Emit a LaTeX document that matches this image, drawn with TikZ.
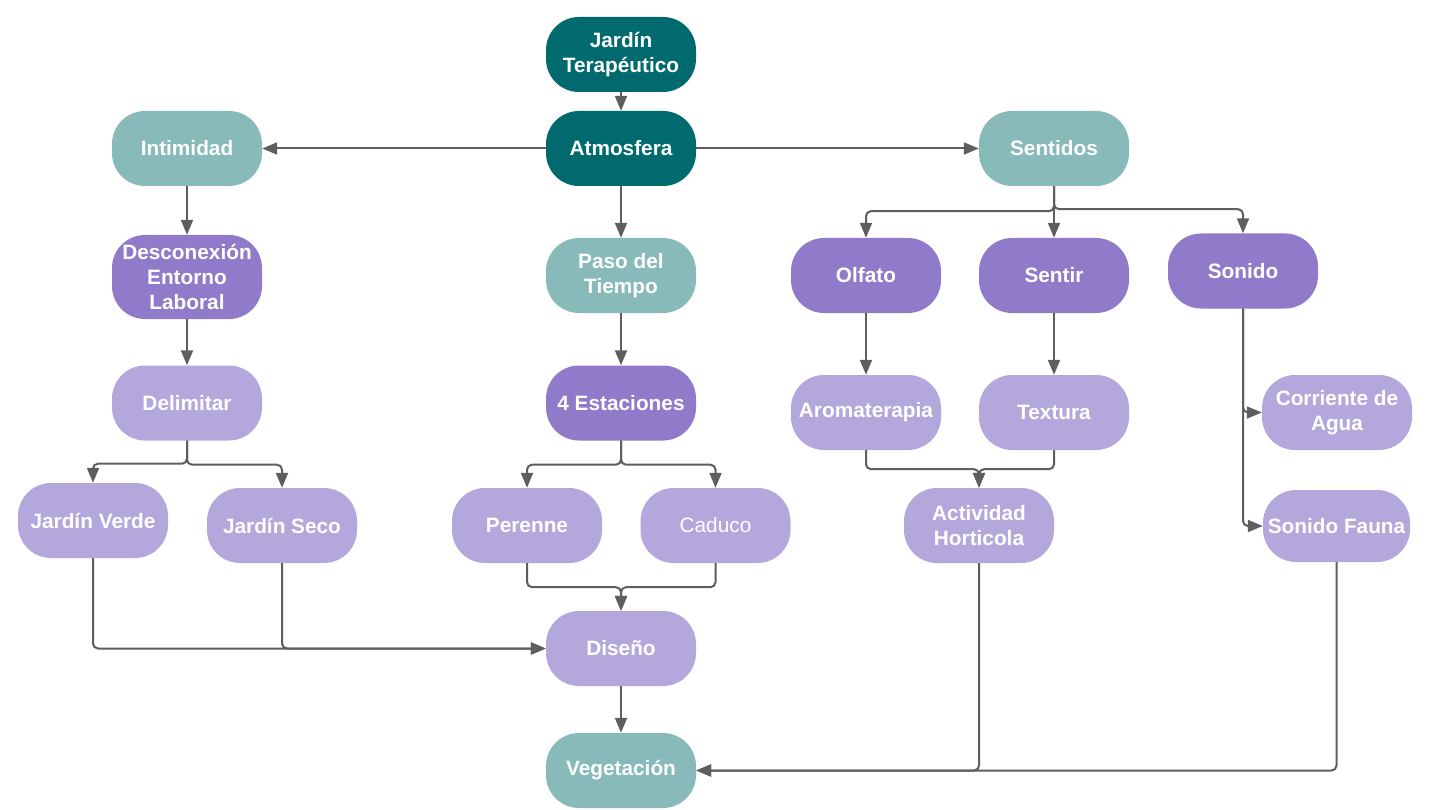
\documentclass[tikz,border=0pt]{standalone}
\usepackage{fontspec}
\setmainfont{Liberation Sans}
\usetikzlibrary{arrows.meta}
\definecolor{dteal}{HTML}{006A6E}
\definecolor{lteal}{HTML}{87BAB9}
\definecolor{dpurp}{HTML}{8F7BC9}
\definecolor{lpurp}{HTML}{B4A7DC}
\definecolor{edgegray}{HTML}{5E5E5E}
\tikzset{
  box/.style={rounded corners=33pt, minimum width=150pt, minimum height=75pt, inner sep=0pt,
    text=white, align=center, font=\fontsize{20.8}{25}\selectfont\bfseries},
  bdteal/.style={box, fill=dteal},
  blteal/.style={box, fill=lteal},
  bdpurp/.style={box, fill=dpurp},
  blpurp/.style={box, fill=lpurp},
  arr/.style={draw=edgegray, line width=2pt, rounded corners=5pt,
    -{Triangle[length=15pt,width=12pt]}},
}
\begin{document}
\begin{tikzpicture}[x=1pt,y=-1pt]
\useasboundingbox (0,0) rectangle (1429,810);
% nodes
\node[bdteal] (jt) at (621,54.5) {Jardín\\Terapéutico};
\node[bdteal] (atm) at (621,148.5) {Atmosfera};
\node[blteal] (int) at (187,148.5) {Intimidad};
\node[blteal] (sen) at (1054,148.5) {Sentidos};
\node[bdpurp, minimum height=84pt] (des) at (187,277) {Desconexión\\Entorno\\Laboral};
\node[blteal] (pas) at (621,275.5) {Paso del\\Tiempo};
\node[bdpurp] (olf) at (866,275.5) {Olfato};
\node[bdpurp] (snt) at (1054,275.5) {Sentir};
\node[bdpurp] (son) at (1243,271) {Sonido};
\node[blpurp] (del) at (187,403) {Delimitar};
\node[bdpurp] (est) at (621,403) {4 Estaciones};
\node[blpurp] (aro) at (866,412.5) {Aromaterapia};
\node[blpurp] (tex) at (1054,412.5) {Textura};
\node[blpurp] (ca) at (1337,412.5) {Corriente de\\Agua};
\node[blpurp, minimum width=147pt, minimum height=72pt] (sf) at (1336.5,526) {Sonido Fauna};
\node[blpurp] (jv) at (93,520.5) {Jardín Verde};
\node[blpurp] (js) at (282,525.5) {Jardín Seco};
\node[blpurp] (per) at (527,525.5) {Perenne};
\node[blpurp, font=\fontsize{20.8}{25}\selectfont] (cad) at (715.5,525.5) {Caduco};
\node[blpurp] (act) at (979,525.5) {Actividad\\Horticola};
\node[blpurp] (dis) at (621,648.5) {Diseño};
\node[blteal] (veg) at (621,770.5) {Vegetación};
% edges
\draw[arr] (jt) -- (atm);
\draw[arr] (atm) -- (int);
\draw[arr] (atm) -- (sen);
\draw[arr] (atm) -- (pas);
\draw[arr] (int) -- (des);
\draw[arr] (des) -- (del);
\draw[arr] (pas) -- (est);
\draw[arr] (del.south) -- ++(0,23) -| (jv.north);
\draw[arr] (del.south) -- ++(0,24) -| (js.north);
\draw[arr] (est.south) -- ++(0,24) -| (per.north);
\draw[arr] (est.south) -- ++(0,24) -| (cad.north);
\draw[arr] (sen.south) -- ++(0,25) -| (olf.north);
\draw[arr] (sen.south) -- (snt.north);
\draw[arr] (sen.south) -- ++(0,23) -| (son.north);
\draw[arr] (olf) -- (aro);
\draw[arr] (snt) -- (tex);
\draw[arr] (aro.south) -- ++(0,19) -| (act.north);
\draw[arr] (tex.south) -- ++(0,19) -| (act.north);
\draw[arr] (son.south) |- (ca.west);
\draw[arr] (son.south) |- (sf.west);
\draw[arr] (jv.south) |- (dis.west);
\draw[arr] (js.south) |- (dis.west);
\draw[arr] (per.south) -- ++(0,24) -| (dis.north);
\draw[arr] (cad.south) -- ++(0,24) -| (dis.north);
\draw[arr] (dis) -- (veg);
\draw[arr] (act.south) |- (veg.east);
\draw[arr] (sf.south) |- (veg.east);
\end{tikzpicture}
\end{document}
